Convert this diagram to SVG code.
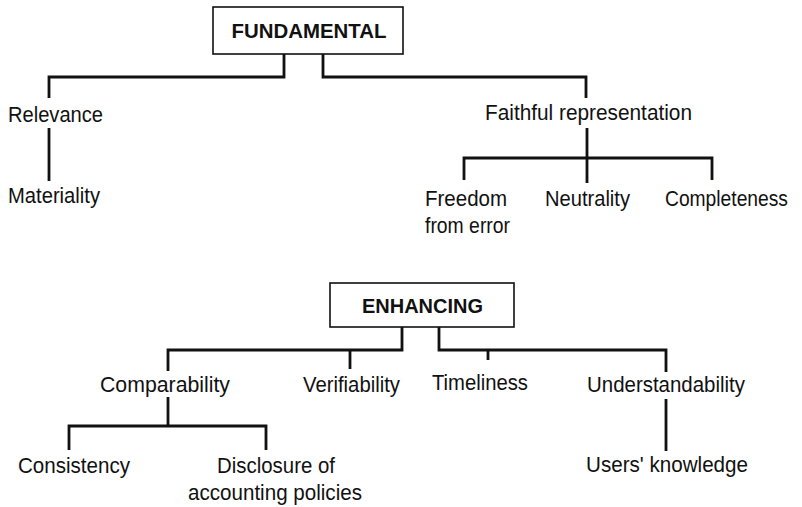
<svg xmlns="http://www.w3.org/2000/svg" width="802" height="507" viewBox="0 0 802 507">
<style>
.t{font-family:"Liberation Sans",Arial,sans-serif;font-size:22px;fill:#111;text-anchor:middle}
.b{font-family:"Liberation Sans",Arial,sans-serif;font-size:20px;font-weight:bold;fill:#111;text-anchor:middle}
.box{fill:#fff;stroke:#111;stroke-width:1.6}
.c{fill:none;stroke:#111;stroke-width:2.8;stroke-linecap:butt;stroke-linejoin:miter}
</style>
<rect width="802" height="507" fill="#fff"/>
<g id="connectors">
<path class="c" d="M284,54 V77 H49 V98"/>
<path class="c" d="M323,54 V77 H586 V98"/>
<path class="c" d="M49,128 V181"/>
<path class="c" d="M587,128 V183"/>
<path class="c" d="M464,180 V158 H712 V180"/>
<path class="c" d="M402,327 V350 H168 V371"/>
<path class="c" d="M350,350 V369"/>
<path class="c" d="M439,327 V350 H666 V372"/>
<path class="c" d="M488,350 V360"/>
<path class="c" d="M168,397 V426"/>
<path class="c" d="M69,450 V426 H266 V450"/>
<path class="c" d="M666,399 V451"/>
</g>
<g id="fundamental"><rect class="box" x="213" y="7" width="190" height="47"/><text class="b" x="309" y="38" textLength="155" lengthAdjust="spacingAndGlyphs">FUNDAMENTAL</text></g>
<g id="relevance"><text class="t" x="55.5" y="122" textLength="95" lengthAdjust="spacingAndGlyphs">Relevance</text></g>
<g id="materiality"><text class="t" x="54" y="203" textLength="92" lengthAdjust="spacingAndGlyphs">Materiality</text></g>
<g id="faithful"><text class="t" x="588.5" y="120" textLength="207" lengthAdjust="spacingAndGlyphs">Faithful representation</text></g>
<g id="freedom"><text class="t" x="466" y="206" textLength="82" lengthAdjust="spacingAndGlyphs">Freedom</text><text class="t" x="467.5" y="233" textLength="85" lengthAdjust="spacingAndGlyphs">from error</text></g>
<g id="neutrality"><text class="t" x="587.5" y="206" textLength="85" lengthAdjust="spacingAndGlyphs">Neutrality</text></g>
<g id="completeness"><text class="t" x="726.5" y="206" textLength="123" lengthAdjust="spacingAndGlyphs">Completeness</text></g>
<g id="enhancing"><rect class="box" x="330" y="283" width="184" height="44"/><text class="b" x="422.5" y="313" textLength="121" lengthAdjust="spacingAndGlyphs">ENHANCING</text></g>
<g id="comparability"><text class="t" x="165" y="392" textLength="130" lengthAdjust="spacingAndGlyphs">Comparability</text></g>
<g id="verifiability"><text class="t" x="351.5" y="392" textLength="97" lengthAdjust="spacingAndGlyphs">Verifiability</text></g>
<g id="timeliness"><text class="t" x="480" y="390" textLength="96" lengthAdjust="spacingAndGlyphs">Timeliness</text></g>
<g id="understandability"><text class="t" x="666" y="392" textLength="158" lengthAdjust="spacingAndGlyphs">Understandability</text></g>
<g id="consistency"><text class="t" x="74" y="473" textLength="112" lengthAdjust="spacingAndGlyphs">Consistency</text></g>
<g id="disclosure"><text class="t" x="276" y="473" textLength="118" lengthAdjust="spacingAndGlyphs">Disclosure of</text><text class="t" x="275" y="500" textLength="174" lengthAdjust="spacingAndGlyphs">accounting policies</text></g>
<g id="users"><text class="t" x="667" y="472" textLength="162" lengthAdjust="spacingAndGlyphs">Users' knowledge</text></g>
</svg>
